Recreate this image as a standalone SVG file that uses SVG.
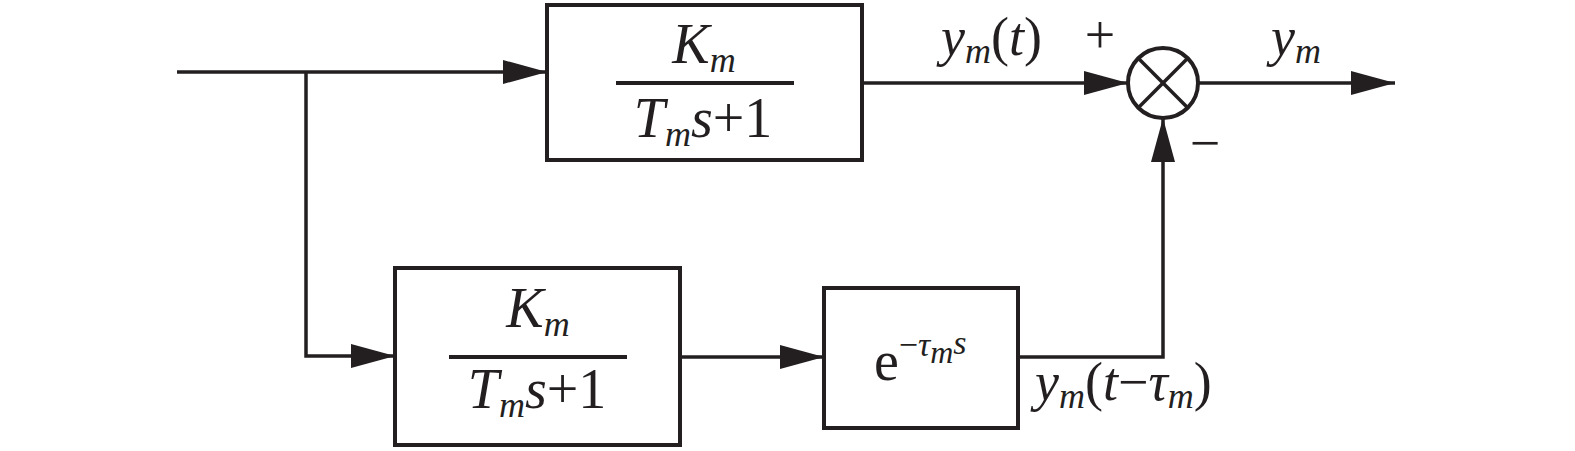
<svg xmlns="http://www.w3.org/2000/svg" width="1575" height="451" viewBox="0 0 1575 451">
<style>
.box{fill:none;stroke:#231f20;stroke-width:4}
.ln{fill:none;stroke:#231f20;stroke-width:3.5}
.frac{stroke:#231f20;stroke-width:4}
.t{font-family:"Times New Roman",Times,"Liberation Serif",Tinos,"Noto Serif","DejaVu Serif",serif;font-size:56px;fill:#231f20}
.it{font-style:italic}
.lab{font-size:54px}
</style>
<defs>
<marker id="arr" markerUnits="userSpaceOnUse" markerWidth="44" markerHeight="24" refX="44" refY="12" orient="auto">
<path d="M0,0 L44,12 L0,24 z" fill="#231f20"/>
</marker>
</defs>
<rect width="1575" height="451" fill="#fff"/>
<g id="connectors">
<path class="ln" d="M177,72 H547" marker-end="url(#arr)"/>
<path class="ln" d="M306,72 V356 H395" marker-end="url(#arr)"/>
<path class="ln" d="M862,83 H1128" marker-end="url(#arr)"/>
<path class="ln" d="M680,357 H824" marker-end="url(#arr)"/>
<path class="ln" d="M1018,357 H1163 V118" marker-end="url(#arr)"/>
<path class="ln" d="M1198,83 H1395" marker-end="url(#arr)"/>
</g>
<g id="block-top">
<rect class="box" x="547" y="5" width="315" height="155"/>
<text class="t" x="704" y="63" text-anchor="middle"><tspan class="it">K</tspan><tspan class="it" font-size="36" dy="9">m</tspan></text>
<line class="frac" x1="616" y1="83" x2="794" y2="83"/>
<text class="t" x="703" y="137" text-anchor="middle"><tspan class="it">T</tspan><tspan class="it" font-size="36" dy="9">m</tspan><tspan class="it" dy="-9">s</tspan><tspan>+1</tspan></text>
</g>
<g id="block-bottom">
<rect class="box" x="395" y="268" width="285" height="177"/>
<text class="t" x="538" y="327" text-anchor="middle"><tspan class="it">K</tspan><tspan class="it" font-size="36" dy="9">m</tspan></text>
<line class="frac" x1="449" y1="357" x2="627" y2="357"/>
<text class="t" x="537" y="408" text-anchor="middle"><tspan class="it">T</tspan><tspan class="it" font-size="36" dy="9">m</tspan><tspan class="it" dy="-9">s</tspan><tspan>+1</tspan></text>
</g>
<g id="block-delay">
<rect class="box" x="824" y="288" width="194" height="140"/>
<text class="t" x="874" y="380"><tspan>e</tspan><tspan font-size="34" dy="-24">−</tspan><tspan class="it" font-size="34">τ</tspan><tspan class="it" font-size="32" dy="7">m</tspan><tspan class="it" font-size="34" dy="-9">s</tspan></text>
</g>
<g id="sum">
<circle class="box" cx="1163" cy="83" r="35"/>
<line class="ln" x1="1138.3" y1="58.3" x2="1187.7" y2="107.7"/>
<line class="ln" x1="1187.7" y1="58.3" x2="1138.3" y2="107.7"/>
</g>
<g id="labels">
<text class="t lab" x="941" y="55"><tspan class="it">y</tspan><tspan class="it" font-size="36" dy="8">m</tspan><tspan dy="-8">(</tspan><tspan class="it">t</tspan><tspan>)</tspan></text>
<text class="t lab" x="1100" y="53" text-anchor="middle">+</text>
<text class="t lab" x="1205" y="161" text-anchor="middle">−</text>
<text class="t lab" x="1271" y="55"><tspan class="it">y</tspan><tspan class="it" font-size="36" dy="8">m</tspan></text>
<text class="t lab" x="1035" y="400"><tspan class="it">y</tspan><tspan class="it" font-size="36" dy="8">m</tspan><tspan dy="-8">(</tspan><tspan class="it">t</tspan><tspan>−</tspan><tspan class="it">τ</tspan><tspan class="it" font-size="36" dy="8">m</tspan><tspan dy="-8">)</tspan></text>
</g>
</svg>
